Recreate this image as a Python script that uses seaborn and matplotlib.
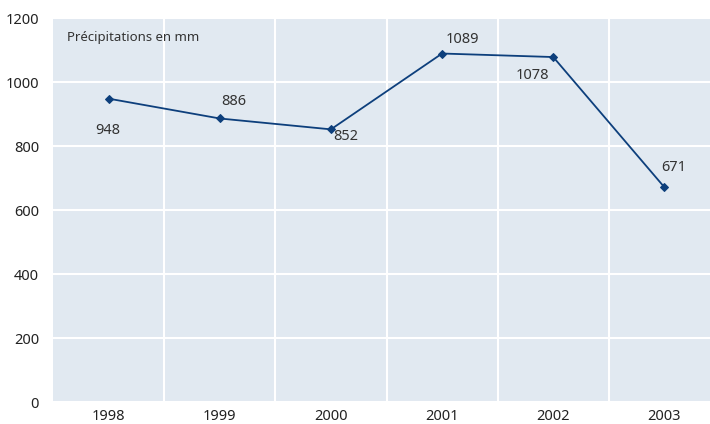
import pandas as pd
import seaborn as sns
import matplotlib.pyplot as plt
from matplotlib import font_manager
from matplotlib.ticker import FixedLocator

# Données
annees = ["1998", "1999", "2000", "2001", "2002", "2003"]
precipitations = [948, 886, 852, 1089, 1078, 671]
# décalage des étiquettes (pixels) par point
decalages = [(-1, -32), (14, 17), (15, -7), (20, 14), (-21, -18), (9, 20)]

df = pd.DataFrame({"annee": range(len(annees)), "mm": precipitations})

sns.set_theme(style="darkgrid")
plt.rcParams["font.family"] = ["Noto Sans", "DejaVu Sans"]

noms = {f.name for f in font_manager.fontManager.ttflist}
police_axes = "Liberation Sans Narrow" if "Liberation Sans Narrow" in noms else "Noto Sans"

fig = plt.figure(figsize=(7.10, 4.24), dpi=100)
ax = fig.add_axes([53 / 710, 22 / 424, 657 / 710, 384 / 424])
ax.set_facecolor("#e1e9f1")

couleur = "#0d3f7c"
sns.lineplot(data=df, x="annee", y="mm", ax=ax, color=couleur, linewidth=1.3,
             marker="D", markersize=4.5, markeredgecolor=couleur)

for i, (v, (dx, dy)) in enumerate(zip(precipitations, decalages)):
    ax.annotate(str(v), (i, v), xytext=(dx, dy), textcoords="offset pixels",
                ha="center", va="center", fontsize=10.5, color="#333333")

ax.text(14 / 657, 1 - 19 / 384, "Précipitations en mm", transform=ax.transAxes,
        ha="left", va="center", fontsize=9.5, color="#333333")

ax.set_ylim(0, 1200)
ax.set_yticks(range(0, 1201, 200))
ax.set_xlim(-0.5, 5.41)
ax.set_xticks(range(len(annees)))
ax.set_xticklabels(annees)
ax.xaxis.set_minor_locator(FixedLocator([0.5, 1.5, 2.5, 3.5, 4.5]))

ax.grid(False)
ax.grid(axis="y", which="major", color="white", linewidth=1.5)
ax.grid(axis="x", which="minor", color="white", linewidth=1.5)
ax.tick_params(axis="both", which="both", length=0, labelsize=10.5, labelcolor="#222222")
ax.tick_params(axis="y", pad=10)
ax.tick_params(axis="x", pad=5)
for lab in ax.get_xticklabels() + ax.get_yticklabels():
    lab.set_fontfamily(police_axes)
ax.set_xlabel("")
ax.set_ylabel("")
for s in ax.spines.values():
    s.set_visible(False)

fig.patch.set_facecolor("white")
fig.savefig("out.png", dpi=100)
